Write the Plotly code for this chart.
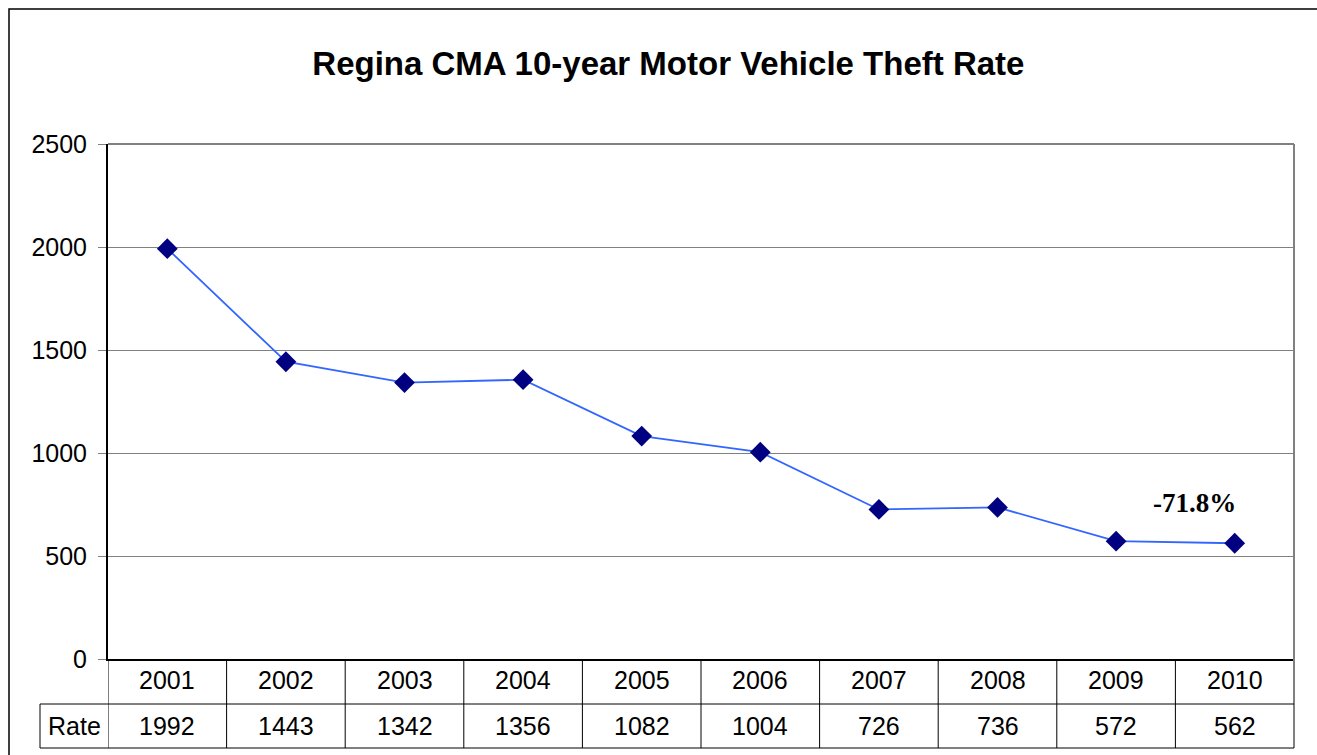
import plotly.graph_objects as go

years = ["2001", "2002", "2003", "2004", "2005", "2006", "2007", "2008", "2009", "2010"]
rates = [1992, 1443, 1342, 1356, 1082, 1004, 726, 736, 572, 562]
title_text = "Regina CMA 10-year Motor Vehicle Theft Rate"
row_label = "Rate"
change_label = "-71.8%"

W, H = 1317, 755
L, R, T, B = 108, 23, 144, 96
pw, ph = W - L - R, H - T - B

def py(pix):  # pixel y -> paper y
    return (H - B - pix) / ph

def px(pix):  # pixel x -> paper x
    return (pix - L) / pw

idx = list(range(len(years)))

fig = go.Figure()
fig.add_trace(go.Scatter(
    x=idx, y=rates, mode="lines+markers",
    line=dict(color="#3366FF", width=1.8),
    marker=dict(symbol="diamond", size=16, color="#000080",
                line=dict(width=0)),
    hoverinfo="x+y", showlegend=False, cliponaxis=False))

font = "Liberation Sans, Arial, sans-serif"
shapes = []
annotations = []

# outer chart border
shapes.append(dict(type="rect", xref="paper", yref="paper",
                   x0=px(9), x1=px(1330), y0=py(770), y1=py(9),
                   line=dict(color="black", width=1.5), layer="below"))
# plot border top/right (gray)
shapes.append(dict(type="line", xref="paper", yref="paper", x0=0, x1=1, y0=1, y1=1,
                   line=dict(color="#808080", width=2)))
shapes.append(dict(type="line", xref="paper", yref="paper", x0=1, x1=1, y0=py(748), y1=1,
                   line=dict(color="#808080", width=2)))

row1_bot = py(704)
row2_bot = py(748)
n = len(years)
# table horizontal lines
shapes.append(dict(type="line", xref="paper", yref="paper", x0=px(40), x1=1,
                   y0=row1_bot, y1=row1_bot, line=dict(color="black", width=1)))
shapes.append(dict(type="line", xref="paper", yref="paper", x0=px(40), x1=1,
                   y0=row2_bot, y1=row2_bot, line=dict(color="black", width=1)))
# rate label left border
shapes.append(dict(type="line", xref="paper", yref="paper", x0=px(40), x1=px(40),
                   y0=row2_bot, y1=row1_bot, line=dict(color="black", width=1)))
# vertical column separators
for i in range(n):
    shapes.append(dict(type="line", xref="x", yref="paper", x0=i - 0.5, x1=i - 0.5,
                       y0=row2_bot, y1=0, line=dict(color="black", width=1)))

for i, (yr, rt) in enumerate(zip(years, rates)):
    annotations.append(dict(x=i, y=(0 + row1_bot) / 2 + 0.003, xref="x", yref="paper",
                            text=yr, showarrow=False, yanchor="middle", xanchor="center",
                            font=dict(family=font, size=25, color="black")))
    annotations.append(dict(x=i, y=(row1_bot + row2_bot) / 2, xref="x", yref="paper",
                            text=str(rt), showarrow=False, yanchor="middle", xanchor="center",
                            font=dict(family=font, size=25, color="black")))
annotations.append(dict(x=px(74), y=(row1_bot + row2_bot) / 2, xref="paper", yref="paper",
                        text=row_label, showarrow=False, yanchor="middle", xanchor="center",
                        font=dict(family=font, size=25, color="black")))
annotations.append(dict(x=8.66, y=757, xref="x", yref="y", text="<b>" + change_label + "</b>",
                        showarrow=False, xanchor="center",
                        font=dict(family="Liberation Serif, Times New Roman, serif",
                                  size=27, color="black")))

fig.update_layout(
    width=W, height=H,
    margin=dict(l=L, r=R, t=T, b=B, autoexpand=False),
    paper_bgcolor="white", plot_bgcolor="white",
    title=dict(text="<b>" + title_text + "</b>", x=0.5075, xanchor="center",
               y=1 - 63 / H, yanchor="middle",
               font=dict(family=font, size=33, color="black")),
    xaxis=dict(range=[-0.5, n - 0.5], showticklabels=False, ticks="",
               showgrid=False, zeroline=False, showline=True,
               linecolor="black", linewidth=2, fixedrange=True),
    yaxis=dict(range=[0, 2500], tickvals=[0, 500, 1000, 1500, 2000, 2500],
               ticks="outside", ticklen=8, tickcolor="#808080", tickwidth=1,
               ticklabelstandoff=6,
               showgrid=True, gridcolor="#808080", gridwidth=1,
               zeroline=False, showline=True, linecolor="black", linewidth=2,
               tickfont=dict(family=font, size=25, color="black"),
               fixedrange=True),
    shapes=shapes, annotations=annotations,
    font=dict(family=font),
)

fig.write_html("out.html", config={"displayModeBar": False},
               post_script="document.body.style.margin='0px';")
